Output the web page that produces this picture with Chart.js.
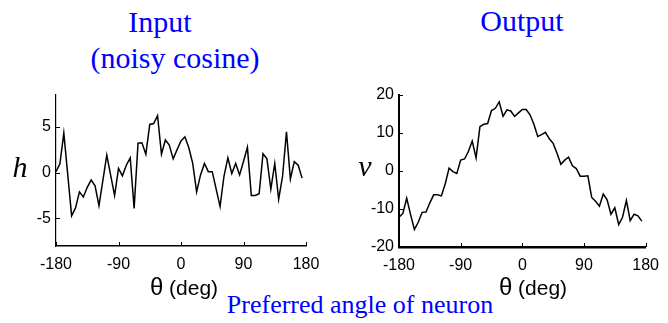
<!DOCTYPE html>
<html>
<head>
<meta charset="utf-8">
<script src="https://cdn.jsdelivr.net/npm/chart.js@4/dist/chart.umd.min.js"></script>
<style>
  body { margin: 0; background: #fff; }
  #page { position: relative; width: 668px; height: 323px; overflow: hidden; background: #fff; }
  .box { position: absolute; }
  .lbl { position: absolute; width: 400px; text-align: center; white-space: nowrap; line-height: 1; }
  .title { font-family: "Liberation Serif", "Times New Roman", serif; color: #0000ff; }
  .axt { font-family: "Liberation Sans", Arial, sans-serif; font-size: 21px; color: #000; }
  .axt span { font-size: 24px; }
  .var { font-family: "Liberation Serif", "Times New Roman", serif; font-style: italic; font-size: 30px; color: #000; }
</style>
</head>
<body>
<div id="page">
  <div class="box" style="left:0px; top:80px;"><canvas id="inputChart" width="330" height="200"></canvas></div>
  <div class="box" style="left:340px; top:80px;"><canvas id="outputChart" width="328" height="200"></canvas></div>

  <div class="lbl title" style="left:-40px; top:7px; font-size:30px;">Input</div>
  <div class="lbl title" style="left:-25px; top:43px; font-size:30px;">(noisy cosine)</div>
  <div class="lbl title" style="left:322px; top:6px; font-size:30px;">Output</div>
  <div class="lbl title" style="left:160px; top:292px; font-size:26px;">Preferred angle of neuron</div>

  <div class="lbl axt" style="left:-16px; top:275px;"><span>θ</span> (deg)</div>
  <div class="lbl axt" style="left:333px; top:275px;"><span>θ</span> (deg)</div>

  <div class="lbl var" style="left:-180px; top:152px;">h</div>
  <div class="lbl var" style="left:165px; top:151px;">v</div>
</div>

<script>
// preferred angle of each neuron (64 neurons)
const theta = [-180, -174.375, -168.75, -163.125, -157.5, -151.875, -146.25, -140.625,
  -135, -129.375, -123.75, -118.125, -112.5, -106.875, -101.25, -95.625,
  -90, -84.375, -78.75, -73.125, -67.5, -61.875, -56.25, -50.625,
  -45, -39.375, -33.75, -28.125, -22.5, -16.875, -11.25, -5.625,
  0, 5.625, 11.25, 16.875, 22.5, 28.125, 33.75, 39.375,
  45, 50.625, 56.25, 61.875, 67.5, 73.125, 78.75, 84.375,
  90, 95.625, 101.25, 106.875, 112.5, 118.125, 123.75, 129.375,
  135, 140.625, 146.25, 151.875, 157.5, 163.125, 168.75, 174.375];

// input h (noisy cosine)
const hValues = [0.1, 0.96, 4.3, -0.2, -4.7, -3.85, -2.1, -2.65,
  -1.6, -0.8, -1.45, -3.6, -0.85, 1.9, -0.3, -2.5,
  0.45, -0.35, 0.8, 1.6, -3.9, 3.2, 3.25, 2.0,
  5.25, 5.35, 6.2, 2.0, 3.55, 3.0, 1.5, 2.5,
  3.45, 3.9, 2.7, 1.0, -2.1, -0.25, 1.0, 0.1,
  0.1, -1.8, -3.7, -0.4, 1.6, -0.1, 1.0, -0.25,
  1.2, 2.75, -2.5, -2.5, -2.3, 2.05, 1.5, -1.8,
  1.0, -2.9, -0.4, 4.45, -0.7, 1.2, 0.8, -0.6];

// output v
const vValues = [-12.2, -11.2, -7.2, -11.5, -15.4, -13.5, -10.9, -10.8,
  -8.4, -6.3, -6.3, -6.6, -3.4, 0.7, -0.2, -0.7,
  2.8, 3.1, 5.05, 7.8, 3.4, 11.6, 12.2, 12.4,
  15.8, 16.4, 18.1, 14.3, 16.0, 15.7, 14.3, 15.2,
  16.1, 16.1, 14.7, 12.2, 9.0, 9.5, 10.1, 8.4,
  7.2, 4.6, 1.7, 2.8, 3.6, 1.3, 0.6, -1.4,
  -1.4, -1.3, -7.0, -8.0, -9.3, -6.1, -7.6, -11.4,
  -9.7, -14.1, -12.2, -7.8, -13.1, -11.4, -11.8, -13.2];

// tick labels
const thetaTicks = [-180, -90, 0, 90, 180];
const hTicks = [-5, 0, 5];
const vTicks = [-20, -10, 0, 10, 20];

// small inward tick marks like matlab
const inwardTicks = {
  id: 'inwardTicks',
  afterDraw(chart) {
    const ctx = chart.ctx;
    const area = chart.chartArea;
    const xs = chart.scales.x;
    const ys = chart.scales.y;
    ctx.save();
    ctx.strokeStyle = '#000';
    ctx.lineWidth = 1;
    ctx.beginPath();
    xs.ticks.forEach((t) => {
      const px = Math.round(xs.getPixelForValue(t.value)) + 0.5;
      ctx.moveTo(px, area.bottom);
      ctx.lineTo(px, area.bottom - 4);
    });
    ys.ticks.forEach((t) => {
      const py = Math.round(ys.getPixelForValue(t.value)) + 0.5;
      ctx.moveTo(area.left, py);
      ctx.lineTo(area.left + 4, py);
    });
    ctx.stroke();
    ctx.restore();
  }
};

const tickFont = { family: '"Liberation Sans", Arial, sans-serif', size: 16 };

function makeChart(id, values, yMin, yMax, yTicks, s) {
  return new Chart(document.getElementById(id), {
    type: 'line',
    data: {
      datasets: [{
        data: theta.map((t, i) => ({ x: t, y: values[i] })),
        borderColor: '#000',
        borderWidth: 1.5,
        pointRadius: 0,
        tension: 0,
        fill: false
      }]
    },
    options: {
      responsive: false,
      animation: false,
      events: [],
      layout: { padding: { top: s.top, right: s.right, left: 0, bottom: 0 } },
      plugins: { legend: { display: false }, tooltip: { enabled: false } },
      scales: {
        x: {
          type: 'linear',
          min: -180,
          max: 180,
          afterBuildTicks: (sc) => { sc.ticks = thetaTicks.map((v) => ({ value: v })); },
          afterFit: (sc) => { sc.height = s.xh; },
          grid: { display: false, drawTicks: false },
          border: { display: true, color: '#000', width: s.bx },
          ticks: { color: '#000', font: tickFont, padding: 9, maxRotation: 0 }
        },
        y: {
          min: yMin,
          max: yMax,
          afterBuildTicks: (sc) => { sc.ticks = yTicks.map((v) => ({ value: v })); },
          afterFit: (sc) => { sc.width = s.yw; },
          grid: { display: false, drawTicks: false },
          border: { display: true, color: '#000', width: s.by },
          ticks: { color: '#000', font: tickFont, padding: 5 }
        }
      }
    },
    plugins: [inwardTicks]
  });
}

const inputChart = makeChart('inputChart', hValues, -8, 8.5, hTicks,
  { top: 6, right: 24, xh: 34, yw: 56, bx: 1.5, by: 1.2 });

const outputChart = makeChart('outputChart', vValues, -20, 20, vTicks,
  { top: 9, right: 19, xh: 33, yw: 59, bx: 2.5, by: 2 });
</script>
</body>
</html>
